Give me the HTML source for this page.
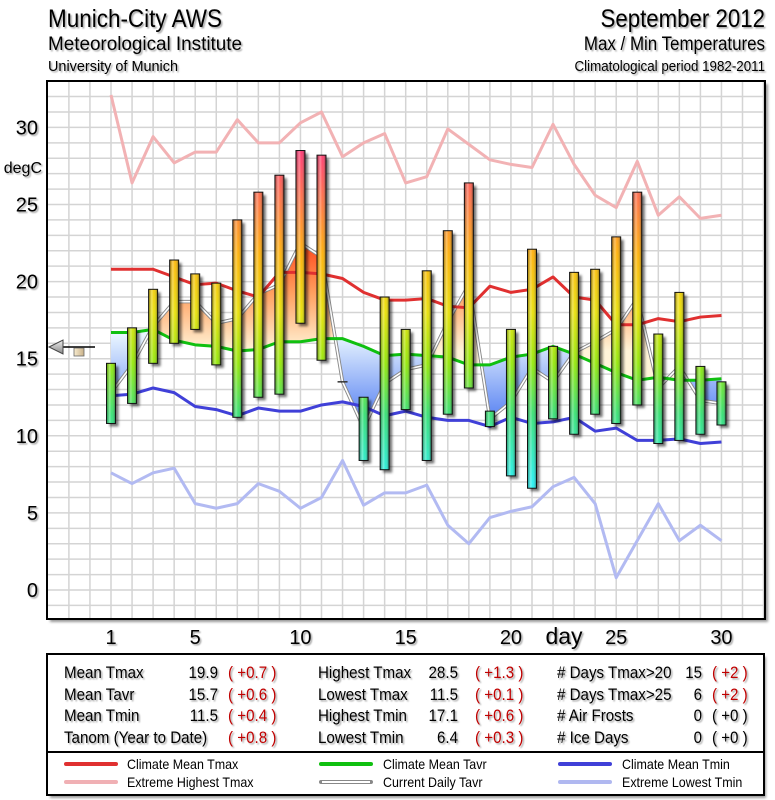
<!DOCTYPE html>
<html><head><meta charset="utf-8">
<style>
html,body{margin:0;padding:0;background:#fff;}
svg{display:block;font-family:"Liberation Sans",Arial,sans-serif;}
</style></head>
<body>
<svg id="chart" width="775" height="800" viewBox="0 0 775 800" xmlns="http://www.w3.org/2000/svg">
<defs>
  <filter id="sh" x="-20%" y="-20%" width="160%" height="160%"><feGaussianBlur stdDeviation="1.2"/></filter>
  <filter id="tsh"><feDropShadow dx="1.5" dy="1.5" stdDeviation="0.8" flood-color="#000" flood-opacity="0.35"/></filter>
  <linearGradient id="barHi" x1="0" y1="0" x2="1" y2="0">
    <stop offset="0" stop-color="#000" stop-opacity="0.35"/>
    <stop offset="0.35" stop-color="#fff" stop-opacity="0.35"/>
    <stop offset="0.6" stop-color="#fff" stop-opacity="0.05"/>
    <stop offset="1" stop-color="#000" stop-opacity="0.45"/>
  </linearGradient>
  <linearGradient id="triG" x1="0" y1="0" x2="0" y2="1">
    <stop offset="0" stop-color="#eee"/><stop offset="1" stop-color="#888"/>
  </linearGradient>
  <linearGradient id="boxG" x1="0" y1="0" x2="1" y2="0">
    <stop offset="0" stop-color="#f8ecd0"/><stop offset="1" stop-color="#c8b088"/>
  </linearGradient>
</defs>
<g id="titles" filter="url(#tsh)">
  <text x="48" y="27" font-size="25" textLength="174" lengthAdjust="spacingAndGlyphs">Munich-City AWS</text>
  <text x="48" y="50" font-size="19" textLength="194" lengthAdjust="spacingAndGlyphs">Meteorological Institute</text>
  <text x="48" y="71" font-size="15" textLength="130" lengthAdjust="spacingAndGlyphs">University of Munich</text>
  <text class="sq" x="765" y="27" font-size="25" text-anchor="end">September 2012</text>
  <text class="sq" x="765" y="50" font-size="19" text-anchor="end">Max / Min Temperatures</text>
  <text class="sq" x="765" y="71" font-size="15" text-anchor="end">Climatological period 1982-2011</text>
</g>
<rect x="50" y="84" width="718" height="538" fill="#999" filter="url(#sh)"/>
<rect x="47" y="81" width="718" height="538" fill="#fff"/>
<g id="grid"></g>
<g id="fills"></g>
<g id="lines"></g>
<g id="bars"></g>
<rect x="47" y="81" width="718" height="538" fill="none" stroke="#000" stroke-width="2"/>
<g id="ylabels" font-size="20" filter="url(#tsh)"></g>
<text x="42" y="173" font-size="16" text-anchor="end" filter="url(#tsh)">degC</text>
<g id="xlabels" font-size="20" filter="url(#tsh)"></g>
<text x="564" y="644" font-size="23" text-anchor="middle" filter="url(#tsh)">day</text>
<g id="anom-indicator">
  <line x1="60" y1="347" x2="95" y2="347" stroke="#000" stroke-width="1.5"/>
  <polygon points="49,347 63,340 63,354" fill="url(#triG)" stroke="#444" stroke-width="1"/>
  <rect x="74" y="348" width="10" height="8" fill="url(#boxG)" stroke="#666" stroke-width="0.8"/>
</g>
<rect x="50" y="657" width="716" height="141" fill="#999" filter="url(#sh)"/>
<rect x="47" y="654" width="717" height="98" fill="#fff" stroke="#000" stroke-width="2"/>
<rect x="47" y="752" width="717" height="43" fill="#fff" stroke="#000" stroke-width="2"/>
<g font-size="17" filter="url(#tsh)">
  <g>
    <text class="sq" x="64" y="678">Mean Tmax</text><text class="sq" x="218" y="678" text-anchor="end">19.9</text><text class="sq" x="228" y="678" fill="#c00000">( +0.7 )</text>
    <text class="sq" x="64" y="700">Mean Tavr</text><text class="sq" x="218" y="700" text-anchor="end">15.7</text><text class="sq" x="228" y="700" fill="#c00000">( +0.6 )</text>
    <text class="sq" x="64" y="721">Mean Tmin</text><text class="sq" x="218" y="721" text-anchor="end">11.5</text><text class="sq" x="228" y="721" fill="#c00000">( +0.4 )</text>
    <text class="sq" x="64" y="743">Tanom (Year to Date)</text><text class="sq" x="228" y="743" fill="#c00000">( +0.8 )</text>
  </g>
  <g>
    <text class="sq" x="318" y="678">Highest Tmax</text><text class="sq" x="458" y="678" text-anchor="end">28.5</text><text class="sq" x="475" y="678" fill="#c00000">( +1.3 )</text>
    <text class="sq" x="318" y="700">Lowest Tmax</text><text class="sq" x="458" y="700" text-anchor="end">11.5</text><text class="sq" x="475" y="700" fill="#c00000">( +0.1 )</text>
    <text class="sq" x="318" y="721">Highest Tmin</text><text class="sq" x="458" y="721" text-anchor="end">17.1</text><text class="sq" x="475" y="721" fill="#c00000">( +0.6 )</text>
    <text class="sq" x="318" y="743">Lowest Tmin</text><text class="sq" x="458" y="743" text-anchor="end">6.4</text><text class="sq" x="475" y="743" fill="#c00000">( +0.3 )</text>
  </g>
  <g>
    <text class="sq" x="557" y="678"># Days Tmax&gt;20</text><text class="sq" x="702" y="678" text-anchor="end">15</text><text class="sq" x="712" y="678" fill="#c00000">( +2 )</text>
    <text class="sq" x="557" y="700"># Days Tmax&gt;25</text><text class="sq" x="702" y="700" text-anchor="end">6</text><text class="sq" x="712" y="700" fill="#c00000">( +2 )</text>
    <text class="sq" x="557" y="721"># Air Frosts</text><text class="sq" x="702" y="721" text-anchor="end">0</text><text class="sq" x="712" y="721">( +0 )</text>
    <text class="sq" x="557" y="743"># Ice Days</text><text class="sq" x="702" y="743" text-anchor="end">0</text><text class="sq" x="712" y="743">( +0 )</text>
  </g>
</g>
<g font-size="14">
  <g><line x1="66" y1="764" x2="116" y2="764" stroke="#e03030" stroke-width="4" stroke-linecap="round"/><text class="sq" x="127" y="769">Climate Mean Tmax</text></g>
  <g><line x1="66" y1="782" x2="116" y2="782" stroke="#f0b0b4" stroke-width="4" stroke-linecap="round"/><text class="sq" x="127" y="787">Extreme Highest Tmax</text></g>
  <g><line x1="321" y1="764" x2="371" y2="764" stroke="#10c010" stroke-width="4" stroke-linecap="round"/><text class="sq" x="383" y="769">Climate Mean Tavr</text></g>
  <g><line x1="321" y1="782" x2="371" y2="782" stroke="#888" stroke-width="4" stroke-linecap="round"/><line x1="322" y1="782" x2="370" y2="782" stroke="#fff" stroke-width="2"/><text class="sq" x="383" y="787">Current Daily Tavr</text></g>
  <g><line x1="560" y1="764" x2="610" y2="764" stroke="#4040d8" stroke-width="4" stroke-linecap="round"/><text class="sq" x="622" y="769">Climate Mean Tmin</text></g>
  <g><line x1="560" y1="782" x2="610" y2="782" stroke="#b0b8f0" stroke-width="4" stroke-linecap="round"/><text class="sq" x="622" y="787">Extreme Lowest Tmin</text></g>
</g>
<script>
const days = [1,2,3,4,5,6,7,8,9,10,11,12,13,14,15,16,17,18,19,20,21,22,23,24,25,26,27,28,29,30];
const tmax = [14.7,17.0,19.5,21.4,20.5,19.9,24.0,25.8,26.9,28.5,28.2,null,12.5,19.0,16.9,20.7,23.3,26.4,11.6,16.9,22.1,15.8,20.6,20.8,22.9,25.8,16.6,19.3,14.5,13.5];
const tmin = [10.8,12.1,14.7,16.0,16.9,14.6,11.2,12.5,12.7,17.3,14.9,null,8.4,7.8,11.7,8.4,11.4,13.1,10.6,7.4,6.6,11.1,10.1,11.4,10.8,12.0,9.5,9.7,10.1,10.7];
const tavr = [12.8,14.6,17.1,18.7,18.7,17.3,17.6,19.2,19.8,22.5,21.6,13.5,10.5,13.4,14.3,14.6,17.4,19.8,11.1,12.2,14.4,13.5,15.4,16.1,16.9,18.9,13.1,14.5,12.3,12.1];
const climTmax = [20.8,20.8,20.8,20.3,19.8,19.9,19.4,19.0,20.6,20.6,20.5,20.2,19.3,18.8,18.8,18.9,18.4,18.3,19.7,19.3,19.5,20.3,19.0,18.8,17.2,17.2,17.6,17.4,17.7,17.8];
const climTavr = [16.7,16.7,16.9,16.2,15.9,15.8,15.5,15.6,16.1,16.1,16.3,16.3,15.8,15.2,15.3,15.2,15.1,14.6,14.6,15.1,15.3,15.8,15.3,14.7,14.1,13.6,13.8,13.6,13.6,13.7];
const climTmin = [12.6,12.7,13.1,12.8,11.9,11.7,11.3,11.8,11.6,11.6,12.0,12.2,11.9,11.3,11.6,11.2,11.0,11.0,10.6,11.2,10.8,10.9,11.2,10.3,10.5,9.7,9.7,9.8,9.5,9.6];
const extHighTmax = [32.1,26.4,29.4,27.7,28.4,28.4,30.5,29.0,29.0,30.3,31.0,28.1,29.0,29.6,26.4,26.8,29.9,28.9,27.9,27.6,27.4,30.2,27.6,25.6,24.8,27.8,24.3,25.5,24.1,24.3];
const extLowTmin = [7.6,6.9,7.6,7.9,5.6,5.3,5.6,6.9,6.4,5.3,6.0,8.4,5.5,6.3,6.3,6.8,4.2,3.0,4.7,5.1,5.4,6.7,7.3,5.6,0.8,3.2,5.6,3.2,4.2,3.2];
const yTicks = [0,5,10,15,20,25,30];
const xTicks = [1,5,10,15,20,25,30];

const NS = "http://www.w3.org/2000/svg";
const X0 = 47, X1 = 765, Y0 = 81, Y1 = 619;
function xs(d){ return 111 + (d-1)*21.05; }
function ys(v){ return 590 - 15.42*v; }
function mk(tag, attrs, parent){
  const e = document.createElementNS(NS, tag);
  for (const k in attrs) e.setAttribute(k, attrs[k]);
  parent.appendChild(e); return e;
}
// condense text like the original narrow font
document.querySelectorAll('text.sq').forEach(t=>{
  const w = t.getComputedTextLength();
  if (w>0){ t.setAttribute('textLength', (w*0.89).toFixed(1)); t.setAttribute('lengthAdjust','spacingAndGlyphs'); }
});
const defs = document.querySelector('defs');
const bg = mk('linearGradient', {id:'barG', gradientUnits:'userSpaceOnUse', x1:0, x2:0, y1:ys(29), y2:ys(7)}, defs);
[[0,'#ff2a78'],[0.17,'#ff7040'],[0.33,'#ffb000'],[0.5,'#e8e000'],[0.65,'#90e800'],[0.8,'#30e070'],[1,'#20f0f0']].forEach(s=>mk('stop',{offset:s[0],'stop-color':s[1]},bg));
const og = mk('linearGradient', {id:'orG', gradientUnits:'userSpaceOnUse', x1:0, x2:0, y1:ys(23), y2:ys(15.5)}, defs);
mk('stop',{offset:0,'stop-color':'#ff3a10'},og); mk('stop',{offset:0.5,'stop-color':'#ffa060'},og); mk('stop',{offset:1,'stop-color':'#fff4d8'},og);
const blg = mk('linearGradient', {id:'blG', gradientUnits:'userSpaceOnUse', x1:0, x2:0, y1:ys(16.5), y2:ys(10)}, defs);
mk('stop',{offset:0,'stop-color':'#e8f4ff'},blg); mk('stop',{offset:1,'stop-color':'#3c6cf0'},blg);

const grid = document.getElementById('grid');
for (let v=-1; v<=33; v++){
  const y = ys(v); if (y<=Y0||y>=Y1) continue;
  const l = mk('line',{x1:X0,x2:X1,y1:y,y2:y,stroke:'#d4d4d4','stroke-width':1.5},grid);
  
  
}
for (let d=-2; d<=32; d++){
  const x = xs(d); if (x<=X0+1||x>=X1-1) continue;
  const l = mk('line',{x1:x,x2:x,y1:Y0,y2:Y1,stroke:'#d4d4d4','stroke-width':1.5},grid);
  
  
}

const fills = document.getElementById('fills');
const climPts = days.map((d,i)=>xs(d)+','+ys(climTavr[i]));
const curPts = days.map((d,i)=>xs(d)+','+ys(tavr[i]));
const cpA = mk('clipPath',{id:'clipAbove'},defs);
mk('polygon',{points:[xs(1)+','+Y0].concat(climPts,[xs(30)+','+Y0]).join(' ')},cpA);
const cpB = mk('clipPath',{id:'clipBelow'},defs);
mk('polygon',{points:[xs(1)+','+Y1].concat(climPts,[xs(30)+','+Y1]).join(' ')},cpB);
const between = curPts.concat(climPts.slice().reverse()).join(' ');
const fa = mk('polygon',{points:between,fill:'url(#orG)','clip-path':'url(#clipAbove)'},fills);


const fb = mk('polygon',{points:between,fill:'url(#blG)','clip-path':'url(#clipBelow)'},fills);



const lines = document.getElementById('lines');
function poly(arr, color, w, name){
  const p = mk('polyline',{points:days.map((d,i)=>xs(d)+','+ys(arr[i])).join(' '),fill:'none',stroke:color,'stroke-width':w,'stroke-linejoin':'round'},lines);
  
  
  return p;
}
poly(extHighTmax,'#f2b2b4',3,'extreme-highest-tmax-line');
poly(extLowTmin,'#b2baf2',3,'extreme-lowest-tmin-line');
poly(tavr,'#8a8a8a',3.5,'current-daily-tavr-outline');
poly(tavr,'#ffffff',1.6,'current-daily-tavr-line');
poly(climTmax,'#e03030',3,'climate-mean-tmax-line');
poly(climTavr,'#10c010',3,'climate-mean-tavr-line');
poly(climTmin,'#4040d8',3,'climate-mean-tmin-line');

const bars = document.getElementById('bars');
days.forEach((d,i)=>{
  const x = xs(d);
  if (tmax[i]===null){
    const m = mk('line',{x1:x-5,x2:x+5,y1:ys(tavr[i]),y2:ys(tavr[i]),stroke:'#333','stroke-width':1.5},bars);
    
    
    return;
  }
  const yt = ys(tmax[i]), yb = ys(tmin[i]), w = 9;
  const g = mk('g',{},bars);
  
  
  mk('rect',{x:x-w/2+3,y:yt+3,width:w,height:yb-yt,fill:'#000','fill-opacity':0.55,filter:'url(#sh)'},g);
  mk('rect',{x:x-w/2,y:yt,width:w,height:yb-yt,fill:'url(#barG)'},g);
  mk('rect',{x:x-w/2,y:yt,width:w,height:yb-yt,fill:'url(#barHi)',stroke:'#111','stroke-width':1},g);
});

const yl = document.getElementById('ylabels');
yTicks.forEach(v=>{
  const t = mk('text',{x:38,y:ys(v)+7,'text-anchor':'end'},yl);
  t.textContent = v;
  
  
});
const xl = document.getElementById('xlabels');
xTicks.forEach(d=>{
  const t = mk('text',{x:xs(d),y:644,'text-anchor':'middle'},xl);
  t.textContent = d;
  
  
});
</script>
</svg>
</body></html>
